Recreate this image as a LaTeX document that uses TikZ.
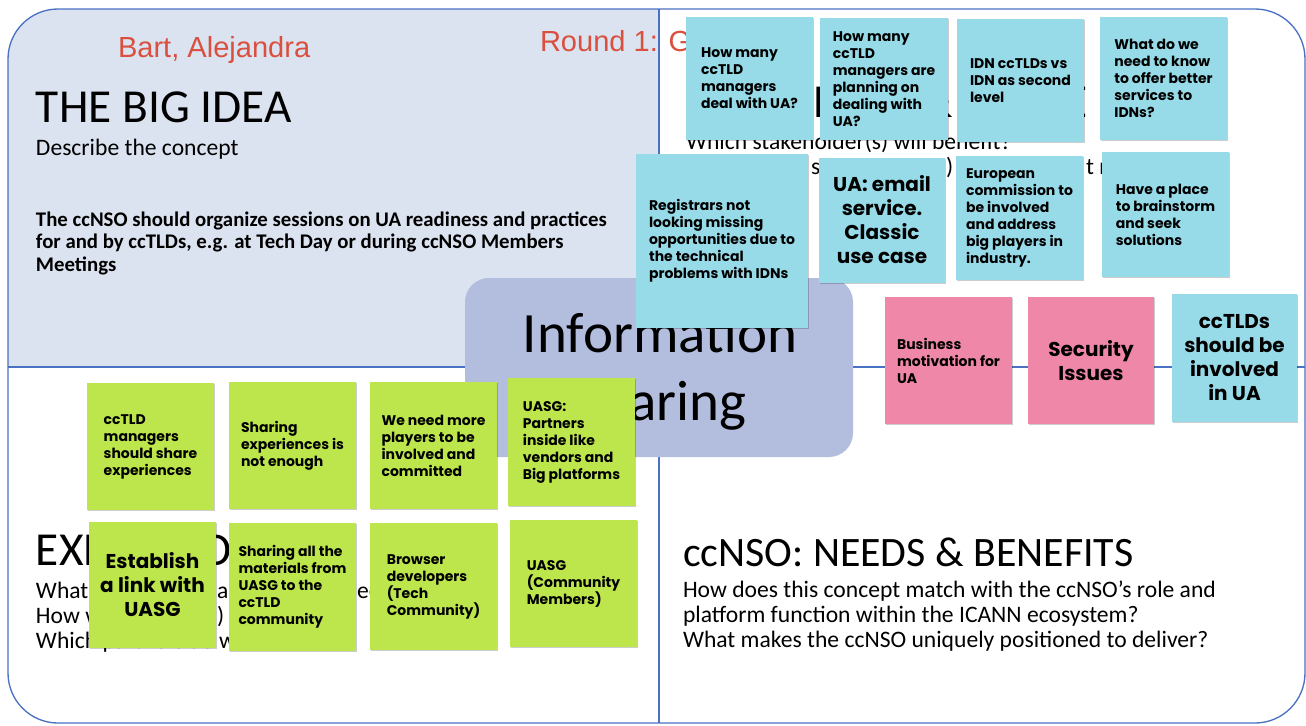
\documentclass[tikz,border=0pt]{standalone}
\usepackage{fontspec}
\setmainfont{Carlito}
\newfontfamily\stk{Poppins}
\newfontfamily\redf{Liberation Sans}
\usetikzlibrary{shadows}
\definecolor{tlfill}{HTML}{DCE3F0}
\definecolor{bord}{HTML}{4A72C4}
\definecolor{infofill}{HTML}{B3BDDD}
\definecolor{cyS}{HTML}{97DBE9}
\definecolor{pkS}{HTML}{EF87A9}
\definecolor{grS}{HTML}{BDE64C}
\definecolor{redt}{HTML}{D9503F}
\tikzset{
  every node/.style={inner sep=0pt, outer sep=0pt},
  sticky/.style={rectangle, drop shadow={shadow xshift=0.7pt, shadow yshift=-1pt, fill=black, opacity=0.2},
    font=\stk\bfseries\fontsize{10.5}{12.75}\selectfont, align=left, text=black},
  big/.style={font=\stk\bfseries\fontsize{15}{18}\selectfont, align=center},
  cy/.style={fill=cyS}, pk/.style={fill=pkS}, gr/.style={fill=grS},
  sz/.style 2 args={minimum width=#1*0.75pt, minimum height=#2*0.75pt},
  tit/.style={font=\fontsize{35.5}{40}\selectfont},
  tits/.style={font=\fontsize{31.4}{36}\selectfont},
  sub/.style={font=\fontsize{17.7}{18.75}\selectfont, align=left},
  para/.style={font=\bfseries\fontsize{15.6}{16.9}\selectfont, align=left},
  redtxt/.style={font=\redf\fontsize{21.8}{26}\selectfont, text=redt},
  infotxt/.style={font=\fontsize{42.75}{50}\selectfont},
  quadline/.style={draw=bord, line width=1pt}
}
\begin{document}
\begin{tikzpicture}[x=0.75pt,y=-0.75pt]
\useasboundingbox (0,0) rectangle (1306,725);
\fill[white] (0,0) rectangle (1306,725);
% top-left quadrant fill
\begin{scope}
  \clip (8,9) rectangle (659,367);
  \fill[tlfill, rounded corners=37.5pt] (8,9) rectangle (1305,723);
\end{scope}
% outline and dividers
\draw[quadline, rounded corners=37.5pt] (8,9) rectangle (1305,723);
\draw[quadline] (659,9) -- (659,723);
\draw[quadline] (8,367) -- (1305,367);

% template texts
\node[redtxt, anchor=base west] (names) at (118,57) {Bart, Alejandra};
\node[redtxt, anchor=base west] (round) at (540,51) {Round 1: G};
\node[tit, anchor=base west] (bigidea) at (36,122.5) {THE BIG IDEA};
\node[sub, anchor=base west] (describe) at (36,155) {Describe the concept};
\node[para, anchor=north west] (concept) at (36,211.5) {The ccNSO should organize sessions on UA readiness and practices\\for and by ccTLDs, e.g. at Tech Day or during ccNSO Members\\Meetings};

\node[tit, anchor=base west] (impact) at (761,117) {IMPACT \& VALUE};
\node[sub, anchor=base west] (which) at (686,149) {Which stakeholder(s) will benefit?};
\node[sub, anchor=base west] (fr1) at (811,174) {s};
\node[sub, anchor=base west] (fr2) at (946,174) {)};
\node[sub, anchor=base west] (fr3) at (1086,174) {t r};

\node[tit, anchor=base west] (expected) at (36,565) {EXPECTED};
\node[sub, anchor=base west] (bl1) at (36,598) {What};
\node[sub, anchor=base west] (bl1a) at (217,598) {a};
\node[sub, anchor=base west] (bl1b) at (357,598) {ee};
\node[sub, anchor=base west] (bl2) at (36,623) {How will};
\node[sub, anchor=base west] (bl2a) at (217,623) {)};
\node[sub, anchor=base west] (bl3) at (36,648) {Which partners do we need?};

\node[tits, anchor=base west] (needs) at (683,566) {ccNSO: NEEDS \& BENEFITS};
\node[sub, anchor=base west] (br1) at (683,597) {How does this concept match with the ccNSO’s role and};
\node[sub, anchor=base west] (br2) at (683,622) {platform function within the ICANN ecosystem?};
\node[sub, anchor=base west] (br3) at (683,647) {What makes the ccNSO uniquely positioned to deliver?};

% central box
\node[fill=infofill, rounded corners=18pt, sz={388}{179}] (info) at (659,367.5) {};
\node[infotxt, anchor=base] (info1) at (660,352) {Information};
\node[infotxt, anchor=base] (info2) at (660,420) {Sharing};

% cyan stickies
\node[sticky,cy,sz={127}{123}] (c1) at (749.5,78.5) {How many\\ccTLD\\managers\\deal with UA?};
\node[sticky,cy,sz={128}{122}] (c2) at (884,79) {How many\\ccTLD\\managers are\\planning on\\dealing with\\UA?};
\node[sticky,cy,sz={127}{123}] (c3) at (1020.5,80.5) {IDN ccTLDs vs\\IDN as second\\level};
\node[sticky,cy,sz={127}{123}] (c4) at (1163.5,78.5) {What do we\\need to know\\to offer better\\services to\\IDNs?};
\node[sticky,cy,sz={172}{174}] (c5) at (722,241) {Registrars not\\looking missing\\opportunities due to\\the technical\\problems with IDNs};
\node[sticky,cy,big,sz={126}{125}] (c6) at (882,220) {UA: email\\service.\\Classic\\use case};
\node[sticky,cy,sz={127}{124}] (c7) at (1019.5,218) {European\\commission to\\be involved\\and address\\big players in\\industry.};
\node[sticky,cy,sz={127}{125}] (c8) at (1165.5,214.5) {Have a place\\to brainstorm\\and seek\\solutions};
\node[sticky,pk,sz={127}{127}] (p1) at (948.5,360.5) {Business\\motivation for\\UA};
\node[sticky,pk,big,sz={126}{127}] (p2) at (1091,360.5) {Security\\Issues};
\node[sticky,cy,big,sz={125}{128}] (c9) at (1234.5,358) {ccTLDs\\should be\\involved\\in UA};

% green stickies
\node[sticky,gr,sz={127}{127}] (g1) at (150.5,446.5) {ccTLD\\managers\\should share\\experiences};
\node[sticky,gr,sz={127}{127}] (g2) at (292.5,445.5) {Sharing\\experiences is\\not enough};
\node[sticky,gr,sz={127}{127}] (g3) at (433.5,445.5) {We need more\\players to be\\involved and\\committed};
\node[sticky,gr,sz={127}{128}] (g4) at (571.5,442) {UASG:\\Partners\\inside like\\vendors and\\Big platforms};
\node[sticky,gr,big,sz={127}{126}] (g5) at (152.5,585) {Establish\\a link with\\UASG};
\node[sticky,gr,sz={127}{128}] (g6) at (292.5,587) {Sharing all the\\materials from\\UASG to the\\ccTLD\\community};
\node[sticky,gr,sz={127}{127}] (g7) at (433.5,586.5) {Browser\\developers\\(Tech\\Community)};
\node[sticky,gr,sz={127}{127}] (g8) at (573.5,583.5) {UASG\\(Community\\Members)};
\end{tikzpicture}
\end{document}
